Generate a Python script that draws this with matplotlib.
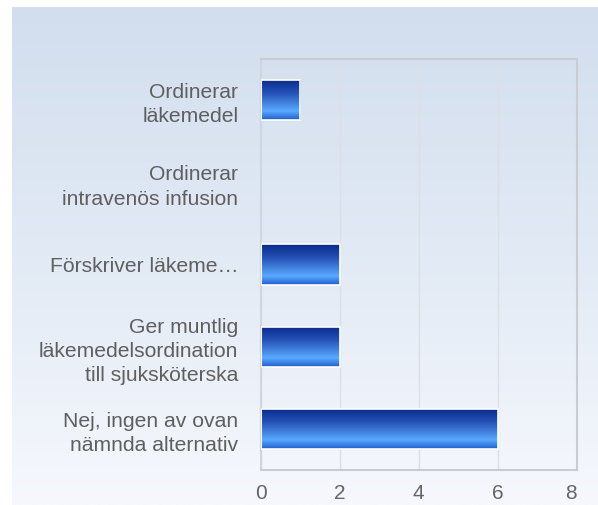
import numpy as np
import matplotlib
matplotlib.use("Agg")
import matplotlib.pyplot as plt
import matplotlib.transforms as mtransforms
from matplotlib.colors import LinearSegmentedColormap

categories = [
    "Ordinerar\nläkemedel",
    "Ordinerar\nintravenös infusion",
    "Förskriver läkeme…",
    "Ger muntlig\nläkemedelsordination\ntill sjuksköterska",
    "Nej, ingen av ovan\nnämnda alternativ",
]
values = [1, 0, 2, 2, 6]
xticks = [0, 2, 4, 6, 8]

plt.rcParams['font.family'] = ['Liberation Sans', 'DejaVu Sans']

W, H = 598, 505
fig = plt.figure(figsize=(W / 100, H / 100), dpi=100)
fig.patch.set_facecolor('white')

# background gradient panel
bg = fig.add_axes([12 / W, 0, 1 - 12 / W, (H - 7) / H])
bg.set_axis_off()
bgcmap = LinearSegmentedColormap.from_list('bg', ['#d2deee', '#e2eaf5', '#f6f8fd'])
bg.imshow(np.linspace(0, 1, 256).reshape(-1, 1), aspect='auto', cmap=bgcmap,
          extent=[0, 1, 0, 1], origin='upper')
bg.set_xlim(0, 1); bg.set_ylim(0, 1)

left, right, top, bottom = 260.7, 576.5, 59, 470
ax = fig.add_axes([left / W, 1 - bottom / H, (right - left) / W, (bottom - top) / H])
ax.patch.set_alpha(0)

y = np.arange(len(categories))
lws = [1.2 if v > 0 else 0 for v in values]
bars = ax.barh(y, values, height=0.49, color='none', edgecolor='white', linewidth=lws, zorder=3)

barcmap = LinearSegmentedColormap.from_list(
    'bar', [(0, '#08298a'), (0.35, '#2654b8'), (0.78, '#5aa9ff'), (1, '#1f5fcc')])
grad = np.linspace(0, 1, 256).reshape(-1, 1)
for b, v in zip(bars, values):
    if v <= 0:
        continue
    x0, y0 = b.get_x(), b.get_y()
    w, h = b.get_width(), b.get_height()
    im = ax.imshow(grad, aspect='auto', cmap=barcmap,
                   extent=[x0, x0 + w, y0 + h, y0], origin='upper', zorder=2)
    im.set_clip_path(b)

ax.set_xlim(0, 8)
ax.set_ylim(len(categories) - 0.5, -0.5)
ax.set_xticks(xticks)
ax.set_xticklabels([str(t) for t in xticks])
ax.set_yticks(y)
ax.set_yticklabels(categories, fontsize=15.2, color='#5f5f5f', linespacing=1.35)
ax.tick_params(axis='y', length=0, pad=16)
ax.tick_params(axis='x', length=0, pad=10, labelsize=15, labelcolor='#666666')
lab = ax.get_xticklabels()[-1]
lab.set_transform(lab.get_transform() + mtransforms.ScaledTranslation(-6 / 100, 0, fig.dpi_scale_trans))
ax.grid(axis='x', color='#dcdfe4', linewidth=1, zorder=0)
ax.set_axisbelow(True)
for s in ax.spines.values():
    s.set_color('#c9ccd2')
    s.set_linewidth(1.5)
ax.spines['left'].set_color('#cfd6e2')

fig.savefig('out.png', dpi=100)
